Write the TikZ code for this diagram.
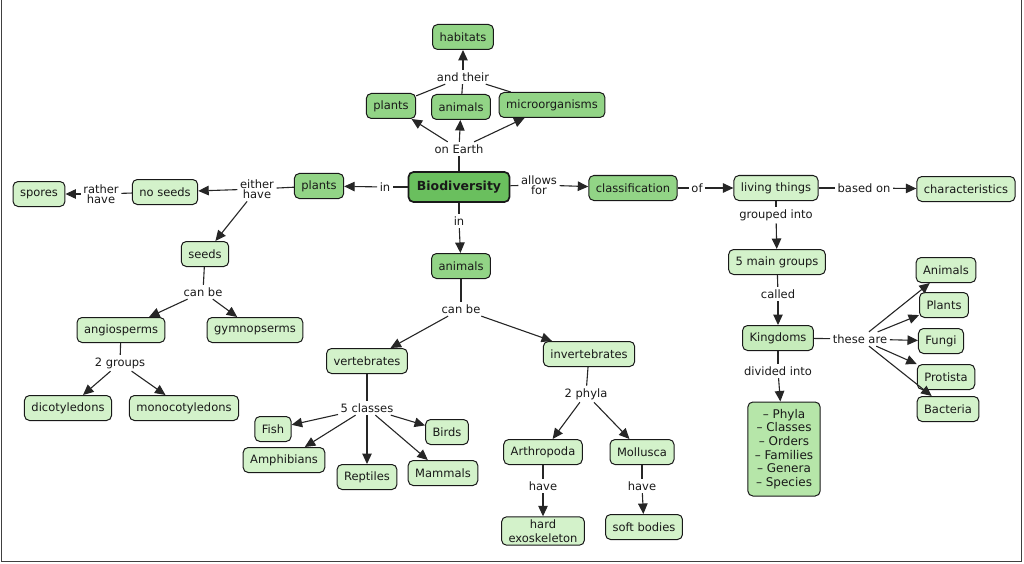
\documentclass[tikz,border=0pt]{standalone}
\usepackage{fontspec}
\setmainfont{DejaVu Sans}
\usetikzlibrary{arrows.meta}
\definecolor{gdark}{HTML}{6ABF5E}
\definecolor{gmid}{HTML}{92D486}
\definecolor{glight}{HTML}{D3F2CA}
\definecolor{gking}{HTML}{C6ECBB}
\definecolor{gphyla}{HTML}{B6E6A9}
\begin{document}
\begin{tikzpicture}[x=1pt,y=-1pt,
  box/.style={draw=black!90, rounded corners=5pt, line width=1pt, inner xsep=7pt, inner ysep=2pt,
    minimum height=25pt, font=\fontsize{11.5}{13.5}\selectfont, text=black!90, align=center},
  lt/.style={box, fill=glight},
  md/.style={box, fill=gmid},
  lbl/.style={inner sep=2.5pt, font=\fontsize{11.5}{12.5}\selectfont, align=center, text=black!90},
  ln/.style={draw=black!85, line width=1.1pt},
  ar/.style={ln, -{Triangle[length=10.5pt,width=9.5pt]}},
]
\useasboundingbox (0,0) rectangle (1024,564);
\draw[black!75, line width=1.5pt] (1.5,0) -- (1.5,561.5) -- (1021.5,561.5) -- (1021.5,0);

% centre
\node[box, fill=gdark, line width=1.7pt, minimum width=101pt, minimum height=30pt, font=\fontsize{12.5}{14}\selectfont\bfseries] (bio) at (459,187) {Biodiversity};

% top
\node[md] (hab) at (463,37) {habitats};
\node[lbl] (andtheir) at (463,77) {and their};
\node[md] (tplants) at (391,106) {plants};
\node[md] (tanimals) at (461,107) {animals};
\node[md] (tmicro) at (552,105) {microorganisms};
\node[lbl] (onearth) at (459,149) {on Earth};

% left
\node[lbl] (in1) at (385,187) {in};
\node[md] (lplants) at (319,186) {plants};
\node[lbl] (either) at (257,189) {either\\[-2pt]have};
\node[lt] (noseeds) at (165,192) {no seeds};
\node[lbl] (rather) at (101,194) {rather\\[-2pt]have};
\node[lt] (spores) at (39,194) {spores};
\node[lt] (seeds) at (205,254) {seeds};
\node[lbl] (canbe1) at (203,292) {can be};
\node[lt] (angio) at (121,330) {angiosperms};
\node[lt] (gymno) at (255,330) {gymnopserms};
\node[lbl] (groups2) at (120,363) {2 groups};
\node[lt] (dico) at (68,408) {dicotyledons};
\node[lt] (mono) at (184,408) {monocotyledons};

% middle
\node[lbl] (in2) at (459,221) {in};
\node[md] (manimals) at (461,266) {animals};
\node[lbl] (canbe2) at (461,309) {can be};
\node[lt] (vert) at (367,361) {vertebrates};
\node[lt] (invert) at (589,354) {invertebrates};
\node[lbl] (classes5) at (367,408) {5 classes};
\node[lt] (fish) at (273,429) {Fish};
\node[lt] (amph) at (284,460) {Amphibians};
\node[lt] (rept) at (367,477) {Reptiles};
\node[lt] (mamm) at (443,473) {Mammals};
\node[lt] (birds) at (447,432) {Birds};
\node[lbl] (phyla2) at (586,394) {2 phyla};
\node[lt] (arth) at (543,452) {Arthropoda};
\node[lt] (moll) at (642,452) {Mollusca};
\node[lbl] (have1) at (543,486) {have};
\node[lbl] (have2) at (642,486) {have};
\node[lt, inner ysep=3pt] (hard) at (543,531) {hard\\exoskeleton};
\node[lt] (soft) at (644,527) {soft bodies};

% right
\node[lbl] (allows) at (539,185) {allows\\[-2pt]for};
\node[md] (classif) at (633,188) {classification};
\node[lbl] (of) at (697,188) {of};
\node[lt] (living) at (776,188) {living things};
\node[lbl] (basedon) at (864,188) {based on};
\node[lt] (charac) at (966,189) {characteristics};
\node[lbl] (grouped) at (776,215) {grouped into};
\node[lt] (main5) at (777,262) {5 main groups};
\node[lbl] (called) at (778,294) {called};
\node[box, fill=gking] (king) at (778,338) {Kingdoms};
\node[lbl] (these) at (860,339) {these are};
\node[lbl] (divided) at (778,371) {divided into};
\node[box, fill=gphyla, minimum width=72pt, minimum height=94pt, font=\fontsize{12}{13.6}\selectfont] (phyla) at (784,449) {-- Phyla\\-- Classes\\-- Orders\\-- Families\\-- Genera\\-- Species};
\node[lt] (kanimals) at (946,270) {Animals};
\node[lt] (kplants) at (944,305) {Plants};
\node[lt] (kfungi) at (941,341) {Fungi};
\node[lt] (kprot) at (946,377) {Protista};
\node[lt] (kbact) at (948,409) {Bacteria};

% connectors
\draw[ln] (bio) -- (onearth);
\draw[ar] (onearth) -- (tplants);
\draw[ar] (onearth) -- (tanimals);
\draw[ar] (onearth) -- (tmicro);
\draw[ln] (tplants) -- (andtheir);
\draw[ln] (tanimals) -- (andtheir);
\draw[ln] (tmicro) -- (andtheir);
\draw[ar] (andtheir) -- (hab);

\draw[ln] (bio) -- (in1);
\draw[ar] (in1) -- (lplants);
\draw[ln] (lplants) -- (either);
\draw[ar] (either) -- (noseeds);
\draw[ar] (either) -- (seeds);
\draw[ln] (noseeds) -- (rather);
\draw[ar] (rather) -- (spores);
\draw[ln] (seeds) -- (canbe1);
\draw[ar] (canbe1) -- (angio);
\draw[ar] (canbe1) -- (gymno);
\draw[ln] (angio) -- (groups2);
\draw[ar] (groups2) -- (dico);
\draw[ar] (groups2) -- (mono);

\draw[ln] (bio) -- (in2);
\draw[ar] (in2) -- (manimals);
\draw[ln] (manimals) -- (canbe2);
\draw[ar] (canbe2) -- (vert);
\draw[ar] (canbe2) -- (invert);
\draw[ln] (vert) -- (classes5);
\draw[ar] (classes5) -- (fish);
\draw[ar] (classes5) -- (amph);
\draw[ar] (classes5) -- (rept);
\draw[ar] (classes5) -- (mamm);
\draw[ar] (classes5) -- (birds);
\draw[ln] (invert) -- (phyla2);
\draw[ar] (phyla2) -- (arth);
\draw[ar] (phyla2) -- (moll);
\draw[ln] (arth) -- (have1);
\draw[ar] (have1) -- (hard);
\draw[ln] (moll) -- (have2);
\draw[ar] (have2) -- (soft);

\draw[ln] (bio) -- (allows);
\draw[ar] (allows) -- (classif);
\draw[ln] (classif) -- (of);
\draw[ar] (of) -- (living);
\draw[ln] (living) -- (basedon);
\draw[ar] (basedon) -- (charac);
\draw[ln] (living) -- (grouped);
\draw[ar] (grouped) -- (main5);
\draw[ln] (main5) -- (called);
\draw[ar] (called) -- (king);
\draw[ln] (king) -- (these);
\draw[ar] (these) -- (kanimals);
\draw[ar] (these) -- (kplants);
\draw[ar] (these) -- (kfungi);
\draw[ar] (these) -- (kprot);
\draw[ar] (these) -- (kbact);
\draw[ln] (king) -- (divided);
\draw[ar] (divided) -- (phyla);
\end{tikzpicture}
\end{document}
